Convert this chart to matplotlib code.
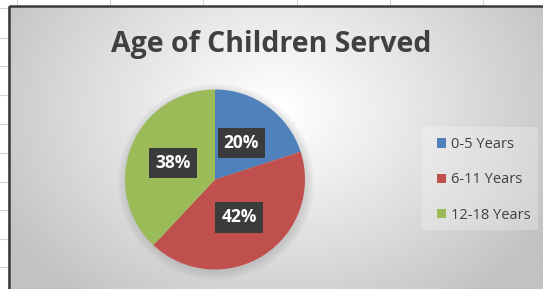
import numpy as np
import matplotlib.pyplot as plt
from matplotlib.patches import Rectangle, Circle

# datos del grafico
categorias = ['0-5 Years', '6-11 Years', '12-18 Years']
porcentajes = [20, 42, 38]
colores = ['#4F81BD', '#C0504D', '#9BBB59']
titulo = 'Age of Children Served'

W, H = 543, 289
fig = plt.figure(figsize=(W / 100, H / 100), dpi=100)
fig.patch.set_facecolor('white')

# ---------- fondo: hoja de calculo + area del grafico ----------
bg = fig.add_axes([0, 0, 1, 1])
bg.set_xlim(0, W)
bg.set_ylim(H, 0)
bg.axis('off')

for y in [8, 38, 66, 95, 124, 153, 182, 210, 239, 267]:
    bg.plot([0, 8], [y, y], color='#d4d4d4', lw=0.8)
for x in [17, 110, 203, 297, 390, 483]:
    bg.plot([x, x], [0, 5], color='#d4d4d4', lw=0.8)

# degradado radial
xx, yy = np.meshgrid(np.linspace(8, W, 400), np.linspace(6, H, 220))
r = np.hypot(xx - 275, (yy - 110) * 1.3)
gris = np.clip(1 - 0.22 * (r / 290) ** 1.1, 0.76, 1)
bg.imshow(gris, cmap='gray', vmin=0, vmax=1, extent=(8, W, H, 6),
          aspect='auto', zorder=1)
bg.add_patch(Rectangle((8.5, 6), W, H, fill=False, ec='#3a3a3a', lw=1.8, zorder=3))

# sombra del pastel
for i in range(8):
    bg.add_patch(Circle((216, 182), 90 + i * 1.2, color='#808080',
                        alpha=0.035, lw=0, zorder=2))

# ---------- pastel ----------
cx, cy, rad = 215, 179.5, 90
ax = fig.add_axes([(cx - rad) / W, (H - cy - rad) / H, 2 * rad / W, 2 * rad / H])
cunas, _, textos = ax.pie(porcentajes, colors=colores, startangle=90, counterclock=False,
                          autopct='%d%%', pctdistance=0.5,
                          wedgeprops=dict(linewidth=0),
                          textprops=dict(color='white', fontsize=12.5, fontweight='bold',
                                         family='Open Sans'))
for t in textos:
    t.set_bbox(dict(boxstyle='square,pad=0.35', fc='#3b3b3b', ec='none'))
ax.set_xlim(-1, 1)
ax.set_ylim(-1, 1)
ax.set_aspect('equal')

# ---------- titulo ----------
fig.text(271 / W, 1 - 45 / H, titulo, ha='center', va='center', fontsize=20.5,
         fontweight='bold', color='#404040', family='Open Sans')

# ---------- leyenda ----------
bg.add_patch(Rectangle((422, 127), 116, 103, fc='white', alpha=0.25, ec='none', zorder=2))
leg = fig.legend(cunas, categorias, loc='center left',
                 bbox_to_anchor=(424 / W, 1 - 180 / H), frameon=False,
                 handlelength=0.6, handleheight=0.6, handletextpad=0.35,
                 labelspacing=1.4, prop=dict(family='Open Sans', size=10.5))
for t in leg.get_texts():
    t.set_color('#404040')

fig.savefig('out.png', dpi=100)
